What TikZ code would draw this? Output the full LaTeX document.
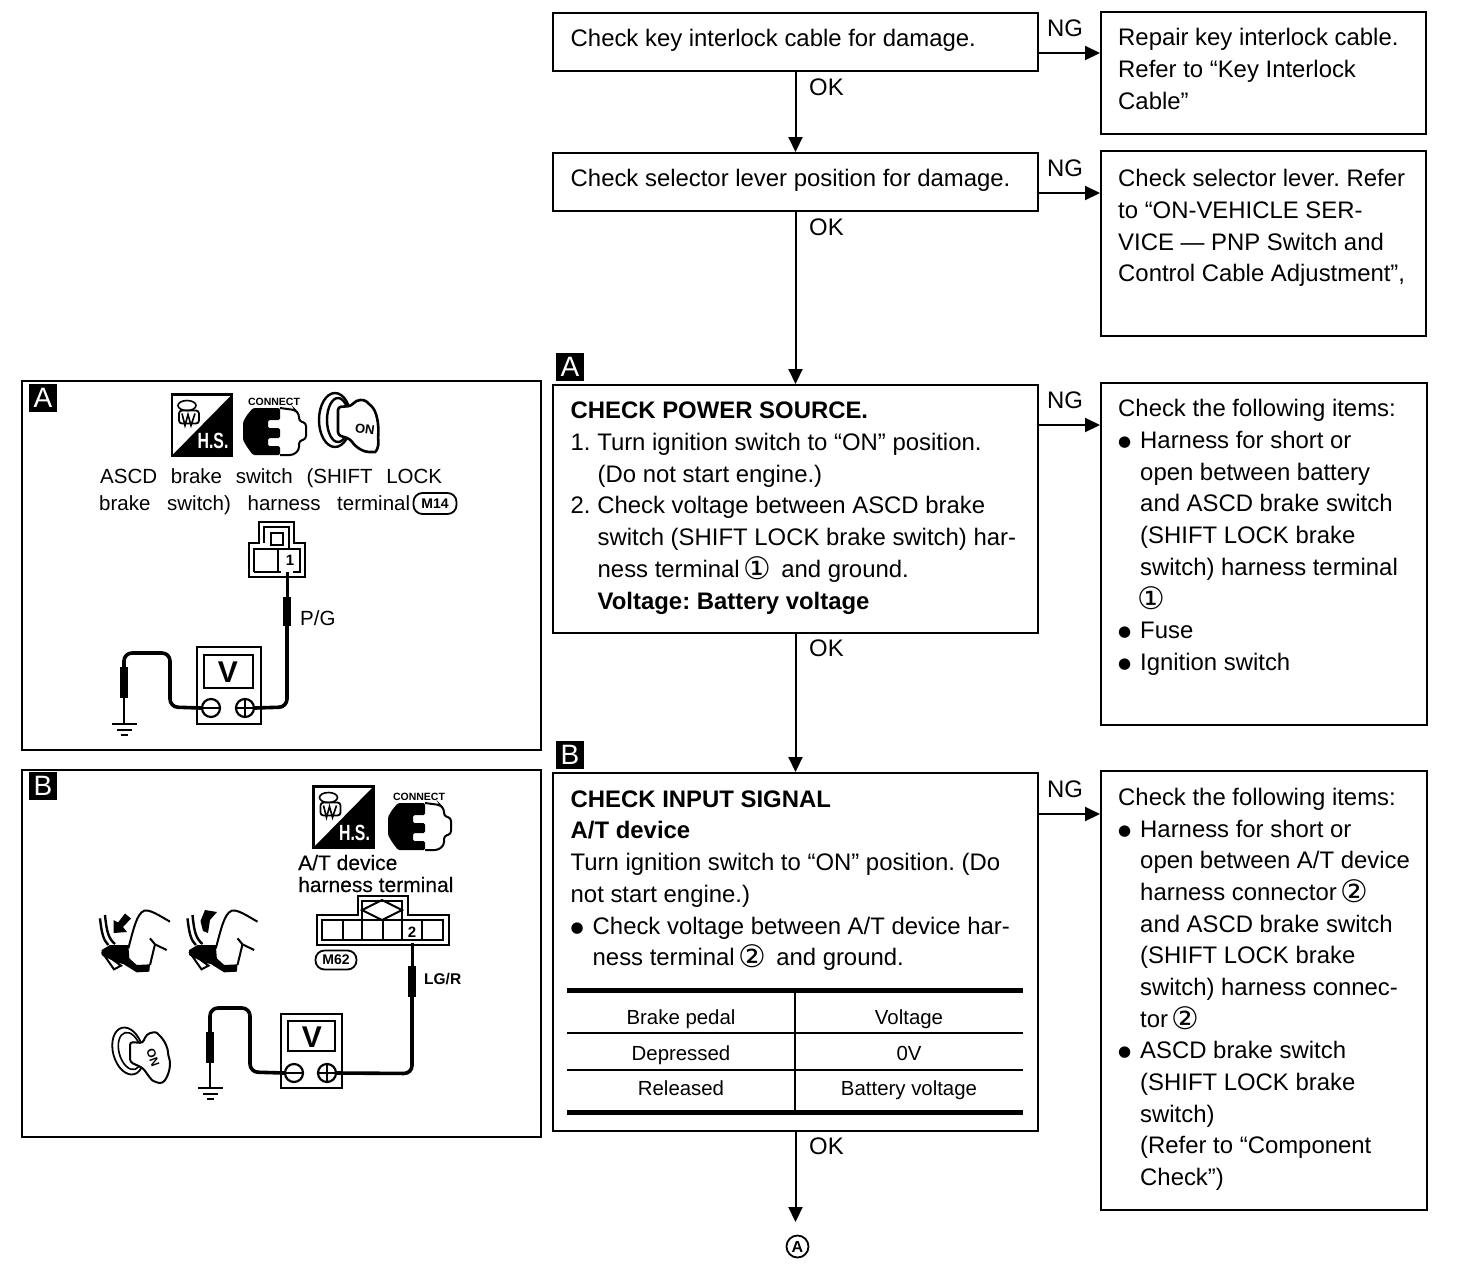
\documentclass[tikz,border=0pt]{standalone}
\usepackage{fontspec}
\setmainfont{Liberation Sans}
\newfontfamily\djv{DejaVu Sans}
\newfontfamily\heavy[FakeBold=0.3]{Liberation Sans}
\usetikzlibrary{arrows.meta,calc}
\AtBeginDocument{\frenchspacing}
\newcommand{\cnum}[1]{\hspace{-3pt}\smash{\raisebox{-2pt}{\djv\fontsize{31}{31}\selectfont #1}}}
\newcommand{\bul}{\makebox[22pt][l]{\raisebox{2pt}{\djv\fontsize{15}{15}\selectfont ●}}}
\newcommand{\fl}{\rule{0pt}{17pt}}
\tikzset{
 box/.style={draw=black,line width=2pt,fill=white,inner sep=0pt,minimum width=#1},
 frame/.style={draw=black,line width=2.2pt,fill=white},
 tx/.style={anchor=north west,inner sep=0pt,align=left,yshift=18pt,font=\fontsize{23.9}{31.75}\selectfont},
 small/.style={anchor=base west,inner sep=0pt,font=\fontsize{20.5}{27}\selectfont},
 cell/.style={anchor=base,inner sep=0pt,font=\fontsize{20.4}{24}\selectfont},
 lab/.style={anchor=base west,inner sep=0pt,font=\fontsize{23.9}{28}\selectfont},
 tag/.style={fill=black,text=white,minimum width=28pt,minimum height=28pt,inner sep=0pt,font=\fontsize{28}{28}\selectfont},
 arr/.style={line width=2pt,-{Triangle[length=15pt,width=14pt]}},
 rule/.style={line width=#1,draw=black},
 wire/.style={line width=3.6pt,draw=black,rounded corners=8pt},
 probe/.style={line width=8.5pt,draw=black},
 thin/.style={line width=2pt,draw=black},
 oval/.style={draw=black,line width=1.8pt,rounded corners=9pt,minimum width=43pt,minimum height=21pt,inner sep=0pt,font=\bfseries\fontsize{14}{14}\selectfont},
 hsicon/.pic={
  \draw[line width=2.4pt,fill=white] (0,0) rectangle (60,61);
  \fill[black] (60,0) -- (60,61) -- (0,61) -- cycle;
  \draw[line width=1.6pt] (15,11) ellipse (9 and 5);
  \draw[line width=1.8pt,rounded corners=3pt] (7,16) rectangle (27,29);
  \draw[line width=1.6pt] (10,19) -- (13,31) -- (16,20) -- (19,31) -- (23,19);
  \node[inner sep=0pt,text=white,font=\bfseries\fontsize{22}{22}\selectfont,xscale=.72] (-hs) at (41,46) {H.S.};
 },
 conicon/.pic={
  \draw[line width=2pt,fill=white,rounded corners=3pt] (37,0) -- (52,2) -- (56,6) -- (56,13) -- (63,15) -- (63,31) -- (56,33) -- (56,42) -- (50,47) -- (37,47);
  \fill[black,rounded corners=1.5pt] (0,14) -- (4,7) -- (10,0) -- (37,0) -- (37,12) -- (25,12) -- (25,20) -- (37,20) -- (37,30) -- (25,30) -- (25,38) -- (37,38) -- (37,47) -- (10,47) -- (4,39) -- (0,32) -- cycle;
  \node[inner sep=0pt,font=\bfseries\fontsize{10.5}{10.5}\selectfont,xscale=1] (-con) at (31,-6) {CONNECT};
 },
 keyicon/.pic={
  \draw[line width=2.4pt,fill=white] (16,25) ellipse (16 and 27);
  \draw[line width=2.4pt] (19,25) ellipse (11 and 22);
  \draw[line width=2.6pt,fill=white,rounded corners=3pt] (19,12) -- (32,11) .. controls (38,4) and (45,4) .. (50,9) .. controls (58,16) and (60,30) .. (59,43) .. controls (60,52) and (57,57) .. (53,57) .. controls (46,57) and (38,54) .. (31,44) -- (19,40) -- cycle;
  \node[inner sep=0pt,rotate=-8,font=\bfseries\fontsize{13}{13}\selectfont] (-on) at (46,34) {ON};
 },
 keyiconb/.pic={
  \draw[line width=1.8pt,fill=white,rotate around={15:(16,24)}] (16,24) ellipse (15 and 24);
  \draw[line width=1.6pt,rotate around={15:(18,24)}] (18,24) ellipse (11 and 19);
  \draw[line width=2pt,fill=white,rounded corners=3pt] (18,15) -- (31,16) -- (33,10) .. controls (38,5) and (44,5) .. (47,8) .. controls (53,14) and (56,22) .. (56,28) .. controls (59,36) and (58,46) .. (51,56) .. controls (46,56) and (41,54) .. (38,51) -- (31,41) -- (18,35) -- cycle;
  \node[inner sep=0pt,rotate=-70,font=\bfseries\fontsize{12}{12}\selectfont] (-on) at (41,31) {ON};
 },
 pedalicon/.pic={
  \begin{scope}[x=.3333pt,y=-.3333pt]
  \draw[line width=2pt] (225,65) .. controls (190,45) and (165,28) .. (148,32) .. controls (125,40) and (115,90) .. (100,145);
  \draw[line width=2pt] (165,115) -- (180,133) -- (215,150);
  \draw[line width=2pt] (180,133) -- (165,195);
  \draw[line width=2.4pt] (15,55) .. controls (20,100) and (25,120) .. (40,135);
  \draw[line width=2.4pt] (30,45) .. controls (35,95) and (40,115) .. (60,132);
  \fill[black] (20,150) -- (45,135) -- (100,135) -- (103,175) -- (125,195) -- (165,193) -- (163,215) -- (125,217) -- (85,192) -- (50,185) -- (20,165) -- cycle;
  \draw[line width=2pt,fill=white] (27,165) -- (57,208) -- (78,197) -- (52,178) -- cycle;
  \end{scope}
 },
}
\begin{document}
\begin{tikzpicture}[x=1pt,y=-1pt]
\useasboundingbox (0,0) rectangle (1472,1286);
\fill[white] (0,0) rectangle (1472,1286);
%----- flow boxes
\node[box=485pt,minimum height=58pt] (b1) at (795.5,42) {};
\node[box=485pt,minimum height=58pt] (b2) at (795.5,182) {};
\node[box=485pt,minimum height=248pt] (b3) at (795.5,509) {};
\node[box=485pt,minimum height=358pt] (b4) at (795.5,952) {};
\node[box=325pt,minimum height=122pt] (r1) at (1263.5,73) {};
\node[box=325pt,minimum height=185pt] (r2) at (1263.5,243.5) {};
\node[box=326pt,minimum height=342pt] (r3) at (1264,554) {};
\node[box=326pt,minimum height=439pt] (r4) at (1264,990.5) {};
%----- flow connectors
\coordinate (n1) at (1038,53); \coordinate (n2) at (1038,193);
\coordinate (n3) at (1038,425); \coordinate (n4) at (1038,814);
\coordinate (endp) at (795.5,1222);
\draw[arr] (b1) ++(0,29) -- (b2.north);
\draw[arr] (b2) ++(0,29) -- (b3.north);
\draw[arr] (b3) ++(0,124) -- (b4.north);
\draw[arr] (b4) ++(0,179) -- (endp);
\draw[arr] (n1) -- (n1 -| r1.west);
\draw[arr] (n2) -- (n2 -| r2.west);
\draw[arr] (n3) -- (n3 -| r3.west);
\draw[arr] (n4) -- (n4 -| r4.west);
\foreach \n/\y in {ok1/95,ok2/235,ok3/656,ok4/1154} \node[lab] (\n) at (809,\y) {OK};
\foreach \n/\y in {ng1/36,ng2/176,ng3/408,ng4/797} \node[lab] (\n) at (1047,\y) {NG};
\node[circle,draw,line width=1.8pt,minimum size=22pt,inner sep=0pt,font=\bfseries\fontsize{16}{16}\selectfont] (conn) at (797.5,1246.5) {A};
\node[tag] (tagA) at (570,366.5) {A};
\node[tag] (tagB) at (570,754.5) {B};
%----- flow texts
\node[tx] (t1) at (570.5,47) {\fl Check key interlock cable for damage.};
\node[tx] (t2) at (570.5,187) {\fl Check selector lever position for damage.};
\node[tx,font=\fontsize{23.9}{31.9}\selectfont] (t3) at (570.5,419) {\fl\textbf{CHECK POWER SOURCE.}\\
1. Turn ignition switch to “ON” position.\\
\hspace*{27pt}(Do not start engine.)\\
2. Check voltage between ASCD brake\\
\hspace*{27pt}switch (SHIFT LOCK brake switch) har-\\
\hspace*{27pt}ness terminal \cnum{①}\hspace{10pt}and ground.\\
\hspace*{27pt}\textbf{Voltage: Battery voltage}};
\node[tx] (t4) at (570.5,808) {\fl\textbf{CHECK INPUT SIGNAL}\\
\textbf{A/T device}\\
Turn ignition switch to “ON” position. (Do\\
not start engine.)\\
\hspace*{0pt}\bul Check voltage between A/T device har-\\
\hspace*{22pt}ness terminal \cnum{②}\hspace{10pt}and ground.};
\node[tx] (tr1) at (1118,46) {\fl Repair key interlock cable.\\ Refer to “Key Interlock\\ Cable”};
\node[tx] (tr2) at (1118,187) {\fl Check selector lever. Refer\\ to “ON-VEHICLE SER-\\ VICE — PNP Switch and\\ Control Cable Adjustment”,};
\node[tx] (tr3) at (1118,417) {\fl Check the following items:\\
\hspace*{0pt}\bul Harness for short or\\
\hspace*{22pt}open between battery\\
\hspace*{22pt}and ASCD brake switch\\
\hspace*{22pt}(SHIFT LOCK brake\\
\hspace*{22pt}switch) harness terminal\\
\hspace*{22pt}\cnum{①}\\
\hspace*{0pt}\bul Fuse\\
\hspace*{0pt}\bul Ignition switch};
\node[tx,font=\fontsize{23.9}{31.67}\selectfont] (tr4) at (1118,806) {\fl Check the following items:\\
\hspace*{0pt}\bul Harness for short or\\
\hspace*{22pt}open between A/T device\\
\hspace*{22pt}harness connector \cnum{②}\\
\hspace*{22pt}and ASCD brake switch\\
\hspace*{22pt}(SHIFT LOCK brake\\
\hspace*{22pt}switch) harness connec-\\
\hspace*{22pt}tor \cnum{②}\\
\hspace*{0pt}\bul ASCD brake switch\\
\hspace*{22pt}(SHIFT LOCK brake\\
\hspace*{22pt}switch)\\
\hspace*{22pt}(Refer to “Component\\
\hspace*{22pt}Check”)};
%----- table
\draw[rule=5pt] (567,990) -- (1023,990);
\draw[rule=2.6pt] (567,1033) -- (1023,1033);
\draw[rule=2.6pt] (567,1070) -- (1023,1070);
\draw[rule=5pt] (567,1112) -- (1023,1112);
\draw[rule=2pt] (795,990) -- (795,1112);
\node[cell] (c11) at (681,1024) {Brake pedal};
\node[cell] (c12) at (909,1024) {Voltage};
\node[cell] (c21) at (681,1060) {Depressed};
\node[cell] (c22) at (909,1060) {0V};
\node[cell] (c31) at (681,1095) {Released};
\node[cell] (c32) at (909,1095) {Battery voltage};
%----- panel A
\draw[frame] (22,381) rectangle (541,750);
\node[tag] (pa) at (43,398) {A};
\pic (hsa) at (172,394.5) {hsicon};
\pic (cona) at (243,408) {conicon};
\pic (keya) at (319,395) {keyicon};
\node[small,anchor=base west] (la1) at (100,483) {\makebox[342pt][s]{ASCD brake switch (SHIFT LOCK}};
\node[small] (la2) at (99,510) {\makebox[311pt][s]{brake switch) harness terminal}};
\node[oval] (m14) at (435,503.5) {M14};
% connector A
\draw[thin,fill=white] (249,577) -- (249,543) -- (259,543) -- (259,522) -- (294,522) -- (294,543) -- (305,543) -- (305,577) -- cycle;
\draw[thin] (264,543) -- (264,527) -- (289,527) -- (289,549);
\draw[thin] (271,533) rectangle (283,545);
\draw[thin] (254,572) -- (254,549) -- (300,549) -- (300,572) -- (293,572) (278,549) -- (278,572) -- (254,572) (278,572) -- (281,572);
\node[inner sep=0pt,font=\bfseries\fontsize{15}{15}\selectfont] (one) at (290,560) {1};
\coordinate (a1) at (287,572); \coordinate (a2) at (287,597); \coordinate (a3) at (287,626);
% meter A
\draw[line width=2.4pt] (197,647) rectangle (261,724);
\draw[line width=2.4pt] (204,655) rectangle (253,688);
\node[inner sep=0pt,font=\bfseries\fontsize{30}{30}\selectfont] (va) at (228,672) {V};
\node[circle,draw,line width=2.2pt,minimum size=18pt,inner sep=0pt,fill=white] (ma) at (211,708) {};
\node[circle,draw,line width=2.2pt,minimum size=18pt,inner sep=0pt,fill=white] (pla) at (245,708) {};
\draw[line width=2pt] (ma.west) -- (ma.east) (pla.west) -- (pla.east) (pla.north) -- (pla.south);
\draw[wire] (a3) -- (287,707) -- (pla.east);
\draw[line width=3pt] (a1) -- (a2);
\draw[probe] (a2) -- (a3);
\coordinate (ag1) at (124,667); \coordinate (ag2) at (124,698); \coordinate (ag3) at (124,723);
\draw[wire] (ma.west) -- (170,707) -- (170,653) -- (124,653) -- (ag1);
\draw[probe] (ag1) -- (ag2);
\draw[line width=2.5pt] (ag2) -- (ag3);
\draw[line width=2.4pt] (112,724) -- (137,724) (117,730) -- (132,730) (121,735) -- (128,735);
\node[small] (pg) at (300,625) {P/G};
%----- panel B
\draw[frame] (22,770) rectangle (541,1137);
\node[tag] (pb) at (43,786) {B};
\pic (hsb) at (313.5,786.5) {hsicon};
\pic (conb) at (388,803) {conicon};
\node[small,font=\heavy\fontsize{21}{24}\selectfont] (lb1) at (298,870) {A/T device};
\node[small,font=\heavy\fontsize{21}{24}\selectfont] (lb2) at (298,892) {harness terminal};
% connector B
\draw[thin,fill=white] (317,945) -- (317,915) -- (358,915) -- (358,896) -- (408,896) -- (408,915) -- (449,915) -- (449,945) -- cycle;
\draw[thin] (322,940) rectangle (443,920);
\foreach \x in {343,362,383,402,422} \draw[thin] (\x,920) -- (\x,940);
\draw[thin] (362,901) rectangle (402,920);
\draw[thin] (362,910) -- (382,900) -- (402,910) -- (382,920) -- cycle;
\node[inner sep=0pt,font=\bfseries\fontsize{15}{15}\selectfont,fill=white] (two) at (412,932) {2};
\node[oval,minimum width=41pt,minimum height=19pt] (m62) at (336,960) {M62};
\coordinate (b1w) at (412,943); \coordinate (b2w) at (412,966); \coordinate (b3w) at (412,997);
% meter B
\draw[line width=2.4pt] (281,1014) rectangle (342,1088);
\draw[line width=2.4pt] (288,1021) rectangle (335,1051);
\node[inner sep=0pt,font=\bfseries\fontsize{30}{30}\selectfont] (vb) at (312,1037) {V};
\node[circle,draw,line width=2.2pt,minimum size=18pt,inner sep=0pt,fill=white] (mb) at (294,1073) {};
\node[circle,draw,line width=2.2pt,minimum size=18pt,inner sep=0pt,fill=white] (plb) at (327,1073) {};
\draw[line width=2pt] (mb.west) -- (mb.east) (plb.west) -- (plb.east) (plb.north) -- (plb.south);
\draw[wire] (b3w) -- (412,1073.5) -- (plb.east);
\draw[line width=3pt] (b1w) -- (b2w);
\draw[probe] (b2w) -- (b3w);
\coordinate (bg1) at (210,1032); \coordinate (bg2) at (210,1063); \coordinate (bg3) at (210,1087);
\draw[wire] (mb.west) -- (250,1072) -- (250,1008) -- (210,1008) -- (bg1);
\draw[probe] (bg1) -- (bg2);
\draw[line width=2.5pt] (bg2) -- (bg3);
\draw[line width=2.2pt] (198,1088) -- (223,1088) (203,1094) -- (218,1094) (207,1099) -- (214,1099);
\node[small,font=\bfseries\fontsize{15.5}{18}\selectfont] (lgr) at (424,984) {LG/R};
\pic (keyb) at (112,1027) {keyiconb};
\pic (leg1) at (95,900) {pedalicon};
\pic (leg2) at (182.5,900) {pedalicon};
\fill[black] (125,913.5) -- (131,918.5) -- (123,927) -- (127,932) -- (113.5,933) -- (113.5,920) -- (118,922.5) -- cycle;
\fill[black] (205,910) -- (217,912) -- (210,920) -- (208,933) -- (203,931) -- (200.5,921) -- cycle;
\end{tikzpicture}
\end{document}
